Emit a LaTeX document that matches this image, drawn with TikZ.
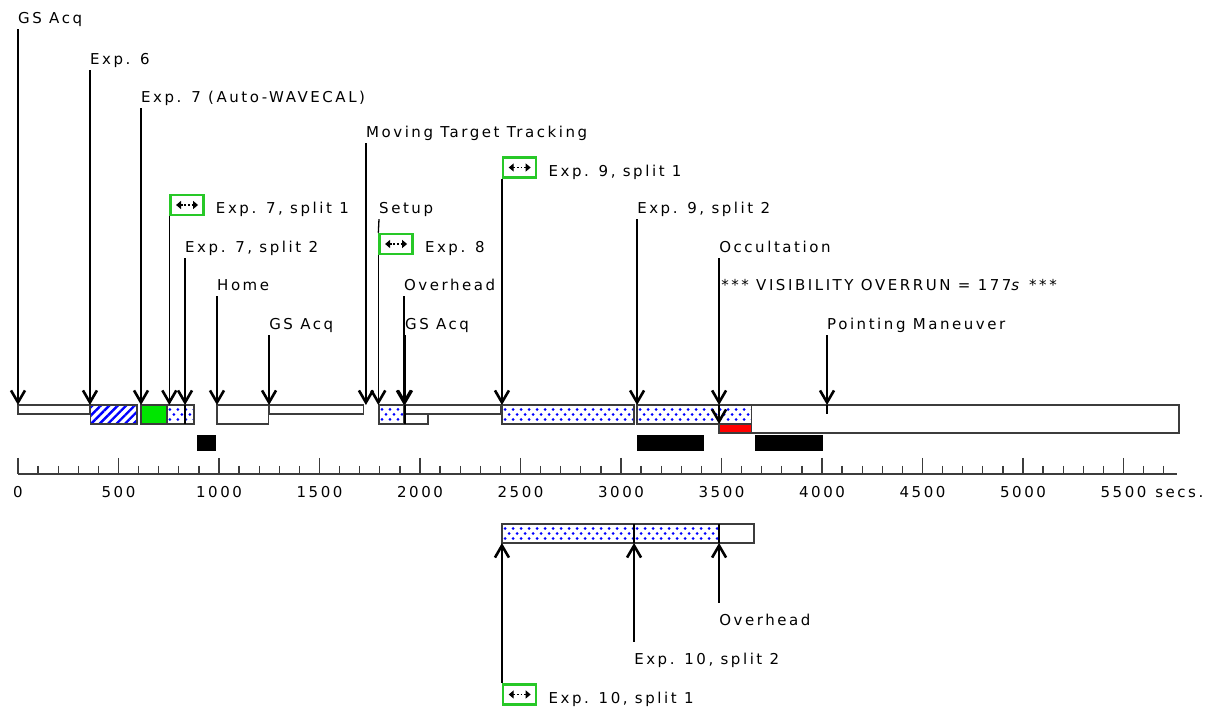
\documentclass[tikz,border=0pt]{standalone}
\usepackage{fontspec}
\setmainfont{DejaVu Sans}[LetterSpace=17]
\usetikzlibrary{arrows.meta,patterns.meta}
\definecolor{icgreen}{RGB}{40,200,40}
\definecolor{fillgreen}{RGB}{0,230,0}
\definecolor{barline}{RGB}{60,60,60}

\begin{document}
\begin{tikzpicture}[
x=0.201pt, y=-1pt,
font=\fontsize{15}{17}\selectfont
]

\tikzstyle{lbl} = [inner sep=0pt, anchor=base west, text height=11pt, text depth=4pt]
\tikzstyle{ic} = [draw=icgreen, line width=2.5pt, fill=white, minimum width=33pt, minimum height=20pt, inner sep=0pt,
  path picture={\draw[black, line width=1.8pt, dash pattern=on 1.8pt off 1.8pt, {Triangle[length=5pt,width=8pt]}-{Triangle[length=5pt,width=8pt]}] ([xshift=-11pt]path picture bounding box.center) -- ([xshift=11pt]path picture bounding box.center);}]
\tikzstyle{ar} = [line width=1.3pt, -{Straight Barb[length=12pt,width=14pt,line width=2.6pt]}]
\tikzstyle{br} = [draw=barline, line width=1.3pt]
\tikzstyle{sl} = [br, fill=white]
\tikzstyle{dt} = [br, fill=white, path picture={
  \foreach \i in {0,...,20} {
    \fill[blue] ([xshift={\i*8pt+3pt}, yshift=4.5pt]path picture bounding box.south west) circle[radius=1.5pt];
    \fill[blue] ([xshift={\i*8pt+7pt}, yshift=9.5pt]path picture bounding box.south west) circle[radius=1.5pt];
    \fill[blue] ([xshift={\i*8pt+3pt}, yshift=14.5pt]path picture bounding box.south west) circle[radius=1.5pt];
  }}]
\tikzstyle{ht} = [br, pattern={Lines[angle=45,distance=6pt,line width=2.4pt]}, pattern color=blue]
\tikzstyle{gr} = [br, fill=fillgreen]
\tikzstyle{rd} = [br, fill=red]
\tikzstyle{bk} = [fill=black]

\useasboundingbox (-89.55,0) rectangle (5910.45,710);
\fill[white] (-89.55,0) rectangle (5910.45,710);

\coordinate (bartop) at (0,405);
\coordinate (barmid) at (0,424);
\coordinate (lowtop) at (0,524);
\coordinate (lowbot) at (0,543);

% main row
\draw[sl] (0,405) rectangle (355,414);
\draw[ht] (360,405) rectangle (592,424);
\draw[gr] (612,405) rectangle (741,424);
\draw[dt] (741,405) rectangle (876,424);
\draw[sl] (990,405) rectangle (1245,424);
\draw[sl] (1249,405) rectangle (1720,414);
\draw[dt] (1796,405) rectangle (1920,424);
\draw[sl] (1920,414) rectangle (2040,424);
\draw[sl] (1920,405) rectangle (2400,414);
\draw[dt] (2408,405) rectangle (3065,424);
\draw[dt] (3080,405) rectangle (3650,424);
\draw[sl] (3650,405) rectangle (5776,433);
\draw[rd] (3488,424) rectangle (3650,433);
\fill[bk] (890,435) rectangle (985,451);
\fill[bk] (3080,435) rectangle (3413,451);
\fill[bk] (3667,435) rectangle (4005,451);

% second row
\draw[dt] (2408,524) rectangle (3065,543);
\draw[dt] (3065,524) rectangle (3488,543);
\draw[sl] (3488,524) rectangle (3662,543);

% time axis
\draw[barline, line width=1.3pt] (0,474) -- (5766,474);
\foreach \t in {0,100,...,5700}
  \draw[barline, line width=1.3pt] (\t,466) -- (\t,474);
\foreach \t in {0,500,...,5500} {
  \draw[barline, line width=1.3pt] (\t,458) -- (\t,474);
  \node[lbl, anchor=base] (n\t) at (\t,498) {\t};
}
\node[lbl] (secs) at (5657,498) {secs.};

% labels
\node[lbl] (gs1) at (0,23) {GS Acq};
\node[lbl] (e6) at (358,64) {Exp. 6};
\node[lbl] (e7) at (612,102) {Exp. 7 (Auto-WAVECAL)};
\node[lbl] (mtt) at (1731,137) {Moving Target Tracking};
\node[ic] (e9s1) at (2496,167.5) {};
\node[lbl] (e9s1t) at ([xshift=11pt,yshift=2.5pt]e9s1.south east) {Exp. 9, split 1};
\node[ic] (e7s1) at (841,205) {};
\node[lbl] (e7s1t) at ([xshift=11pt,yshift=2.5pt]e7s1.south east) {Exp. 7, split 1};
\node[lbl] (setup) at (1796,213) {Setup};
\node[lbl] (e9s2) at (3080,213) {Exp. 9, split 2};
\node[lbl] (e7s2) at (831,252) {Exp. 7, split 2};
\node[ic] (e8) at (1881,244) {};
\node[lbl] (e8t) at ([xshift=11pt,yshift=2.5pt]e8.south east) {Exp. 8};
\node[lbl] (occ) at (3488,252) {Occultation};
\node[lbl] (home) at (990,290) {Home};
\node[lbl] (ovh) at (1920,290) {Overhead};
\node[lbl] (vis) at (3498,290) {*** VISIBILITY OVERRUN = 177\textit{s} ***};
\node[lbl] (gs2) at (1249,329) {GS Acq};
\node[lbl] (gs3) at (1925,329) {GS Acq};
\node[lbl] (pm) at (4025,329) {Pointing Maneuver};

\node[lbl] (ovh2) at (3488,626) {Overhead};
\node[lbl] (e10s2) at (3065,665) {Exp. 10, split 2};
\node[ic] (e10s1) at (2496,694.5) {};
\node[lbl] (e10s1t) at ([xshift=11pt,yshift=2.5pt]e10s1.south east) {Exp. 10, split 1};

% arrows
\foreach \n in {gs1,e6,e7,mtt,e7s2,e9s2,home,ovh,gs2,pm}
  \draw[ar] ([yshift=-2pt]\n.south west) -- (\n.south west |- bartop);
\draw[line width=1.3pt] (e7s2.south west |- bartop) -- (e7s2.south west |- barmid);
\draw[line width=1.3pt] ([yshift=-2pt]setup.south west) -- (e8.north west);
\foreach \n in {e7s1,e8,e9s1}
  \draw[ar] (\n.south west) -- (\n.south west |- bartop);
\draw[ar, line width=2.4pt] ([yshift=-2pt]gs3.south west) -- (gs3.south west |- bartop);
\draw[line width=2.4pt] (gs3.south west |- bartop) -- (gs3.south west |- barmid);
\draw[ar] ([yshift=-2pt]occ.south west) -- (occ.south west |- bartop);
\draw[ar] (occ.south west |- bartop) -- (occ.south west |- barmid);
\draw[line width=2.4pt] (pm.south west |- bartop) -- ++(0,9);

\draw[line width=2.2pt] (e10s2.north west |- lowtop) -- (e10s2.north west |- lowbot);
\draw[line width=2.2pt] (ovh2.north west |- lowtop) -- (ovh2.north west |- lowbot);
\draw[ar] ([yshift=12pt]ovh2.north west) -- (ovh2.north west |- lowbot);
\draw[ar] ([yshift=12pt]e10s2.north west) -- (e10s2.north west |- lowbot);
\draw[ar] (e10s1.north west) -- (e10s1.north west |- lowbot);

\end{tikzpicture}
\end{document}
